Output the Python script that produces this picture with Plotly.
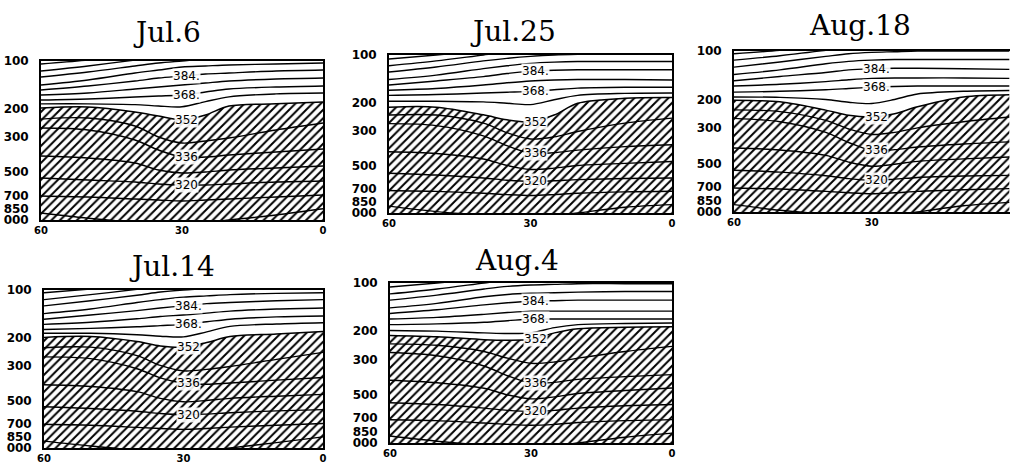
import plotly.graph_objects as go
import math

# ---------------- data ----------------
LATS = [60, 50, 40, 35, 30, 25, 20, 10, 0]
LEVELS = [416, 408, 400, 392, 384, 376, 368, 360, 352, 344, 336, 328, 320, 312, 304]
P_TICKS = [100, 200, 300, 500, 700, 850, 1000]
P_TICK_TEXT = ["100", "200", "300", "500", "700", "850", "000"]
LAT_TICKS = [60, 30, 0]
LABEL_LEVELS = [384, 368, 352, 336, 320]
LABEL_TEXT = ["384.", "368.", "352", "336", "320"]
SHADE_LEVEL = 352
TITLES = ["Jul.6", "Jul.25", "Aug.18", "Jul.14", "Aug.4"]

# pressure (hPa) of each isentrope (LEVELS order) at LATS
JUL6 = [
    [104.4, 98.6, 91.7, 88, 85, 83, 82, 80, 78],
    [115.6, 107.5, 98.6, 94.4, 91.7, 90.4, 89, 87.8, 86.5],
    [126, 117.3, 107.5, 103, 100, 97.1, 95.7, 94.4, 93],
    [141.6, 131.7, 119, 114, 109, 107.5, 106, 104.4, 103],
    [152.2, 143.6, 133.6, 128, 124.3, 120.7, 119, 115.6, 114],
    [163.6, 159, 150, 145.7, 141.6, 137.5, 133.6, 129.8, 128],
    [176, 173.4, 168.4, 166, 163.6, 156.7, 150, 145.7, 143.6],
    [186, 186, 188, 192, 194, 180, 168, 161, 159],
    [197.5, 194.7, 209.4, 222, 235, 218.6, 192, 186, 181],
    [232, 228.3, 256.4, 300.6, 328, 318.5, 305, 271.6, 245.5],
    [264, 271.6, 314, 363, 401.7, 401.7, 390.2, 373.6, 357.7],
    [395.9, 407.5, 438, 484.8, 506.4, 499, 484.8, 471, 457.6],
    [544.4, 560.5, 576.8, 593.8, 602.5, 602.5, 593.8, 576.8, 568.6],
    [706.6, 716.8, 737.9, 748.6, 759.5, 748.6, 737.9, 716.8, 696.3],
    [903.6, 975, 1030, 1045, 1060, 1040, 1000, 930, 850],
]
JUL25 = [
    [106, 100, 94, 91, 89, 87, 86, 85, 84],
    [117, 109, 100, 96, 93, 92, 91, 90, 89],
    [128, 119, 109, 105, 102, 100, 99, 98, 97],
    [143, 134, 122, 117, 113, 111, 110, 110, 110],
    [155, 146, 137, 131, 127, 125, 124, 124, 124],
    [167, 163, 155, 150, 146, 144, 143, 143, 144],
    [180, 178, 174, 172, 170, 166, 162, 160, 160],
    [196, 196, 198, 202, 206, 192, 180, 175, 174],
    [213.8, 213.8, 239, 257, 265, 240, 202, 188, 186],
    [240, 240, 270, 310, 340, 330, 305, 270, 251],
    [272, 280, 325, 375, 418, 415, 400, 380, 370],
    [410, 420, 455, 500, 530, 520, 500, 485, 472],
    [560, 575, 600, 620, 631, 625, 615, 605, 601],
    [720, 730, 750, 765, 775, 765, 750, 735, 729],
    [905, 980, 1030, 1050, 1060, 1040, 1000, 920, 885],
]
AUG18 = [
    [104, 99, 93, 90, 88, 87, 86, 85, 84],
    [114, 107, 99, 95, 93, 92, 91, 90, 90],
    [126, 117, 108, 104, 102, 101, 100, 100, 100],
    [140, 131, 120, 116, 114, 113, 113, 113, 113],
    [153, 144, 136, 131, 129, 128, 128, 129, 130],
    [165, 161, 155, 151, 148, 147, 147, 147, 148],
    [180, 178, 174, 171, 168, 166, 165, 165, 165],
    [193, 194, 200, 208, 212, 200, 185, 178, 176],
    [202, 207, 233, 251, 257, 245, 222, 193, 187],
    [232, 238, 270, 305, 330, 320, 300, 275, 257],
    [262, 275, 320, 370, 414, 410, 395, 378, 367],
    [400, 412, 445, 490, 520, 505, 485, 468, 455],
    [550, 565, 595, 620, 635, 625, 610, 598, 592],
    [710, 720, 745, 760, 770, 760, 745, 728, 716],
    [900, 975, 1030, 1050, 1060, 1040, 1000, 915, 871],
]
JUL14 = [
    [104, 98.6, 93, 90, 88, 86, 85, 84, 83],
    [115, 107, 99, 95, 92, 91, 90, 88, 87],
    [126, 117, 108, 103, 100, 98, 96, 95, 94],
    [141, 132, 120, 115, 111, 109, 107, 105, 104],
    [153, 144, 135, 130, 126, 122, 120, 117, 115],
    [165, 160, 152, 147, 144, 140, 136, 132, 130],
    [178, 175, 171, 168, 165, 159, 153, 148, 146],
    [188, 188, 192, 196, 198, 184, 170, 164, 161],
    [199.5, 197, 212, 226, 230, 215, 197, 190, 183],
    [232, 230, 260, 300, 325, 318, 305, 275, 248],
    [265, 272, 315, 360, 389, 395, 388, 372, 358],
    [398, 408, 440, 485, 510, 500, 485, 470, 458],
    [548, 562, 585, 605, 616, 610, 598, 582, 572],
    [708, 718, 740, 752, 762, 752, 738, 718, 700],
    [905, 972, 1030, 1045, 1060, 1040, 1000, 925, 850],
]
AUG4 = [
    [106, 100, 94, 91, 89, 88, 87, 86, 85],
    [117, 109, 100, 96, 94, 93, 92, 91, 91],
    [128, 119, 109, 105, 103, 102, 101, 101, 101],
    [143, 134, 122, 118, 116, 115, 114, 113, 113],
    [155, 147, 137, 133, 130, 129, 128, 128, 128],
    [168, 164, 157, 153, 150, 150, 150, 150, 150],
    [182, 180, 176, 172, 168, 168, 168, 168, 168],
    [198, 200, 205, 207, 205, 190, 182, 179, 178],
    [213, 217, 226, 228, 225, 205, 193, 189, 188],
    [240, 245, 268, 295, 318, 312, 295, 268, 249],
    [272, 285, 330, 380, 422, 418, 400, 385, 374],
    [405, 420, 455, 500, 530, 515, 490, 470, 453],
    [560, 575, 605, 625, 634, 625, 605, 585, 575],
    [715, 725, 750, 765, 775, 765, 745, 725, 714],
    [905, 975, 1030, 1050, 1060, 1040, 1000, 920, 867],
]
PANEL_DATA = [JUL6, JUL25, AUG18, JUL14, AUG4]

# ---------------- layout (pixels in the 1010x462 page) ----------------
W, H = 1010, 462
BOXES = [(41, 323, 61, 220), (389, 672, 55, 213), (734, 1010, 51, 212),
         (44, 323, 290, 448), (390, 672, 283, 443)]
X_RANGES = [[60, 0], [60, 0], [60, -0.15], [60, 0], [60, 0]]
X_TICKS = [LAT_TICKS, LAT_TICKS, LAT_TICKS[:2], LAT_TICKS, LAT_TICKS]
TITLE_POS = [(167, 33), (513, 31), (860, 25), (172, 266), (517, 260)]


def px(x):
    return x / W


def py(y):
    return 1 - y / H


fig = go.Figure()
annotations = []
ytick_font = dict(family="DejaVu Sans", size=12, color="black", weight="bold")
xtick_font = dict(family="DejaVu Sans", size=10, color="black", weight="bold")

for i, data in enumerate(PANEL_DATA):
    n = i + 1
    xa = "x" if n == 1 else f"x{n}"
    ya = "y" if n == 1 else f"y{n}"
    # baseline at bottom of the axis for hatched fill
    fig.add_trace(go.Scatter(x=[LATS[0], LATS[-1]], y=[P_TICKS[-1], P_TICKS[-1]],
                             mode="lines", line=dict(width=0, color="black"),
                             xaxis=xa, yaxis=ya, showlegend=False, hoverinfo="skip"))
    k = LEVELS.index(SHADE_LEVEL)
    fig.add_trace(go.Scatter(x=LATS, y=data[k], mode="lines",
                             line=dict(color="black", width=1.5, shape="spline", smoothing=0.9),
                             fill="tonexty", fillcolor="white",
                             fillpattern=dict(shape="/", size=6, solidity=0.33,
                                              fgcolor="black", bgcolor="white"),
                             xaxis=xa, yaxis=ya, showlegend=False, hoverinfo="skip"))
    for j, lev in enumerate(LEVELS):
        if lev == SHADE_LEVEL:
            continue
        fig.add_trace(go.Scatter(x=LATS, y=data[j], mode="lines",
                                 line=dict(color="black", width=1.4, shape="spline", smoothing=0.9),
                                 xaxis=xa, yaxis=ya, showlegend=False, hoverinfo="skip"))
    # contour labels
    for lev, txt in zip(LABEL_LEVELS, LABEL_TEXT):
        p = data[LEVELS.index(lev)][LATS.index(30)]
        annotations.append(dict(x=29, y=math.log10(p), xref=xa, yref=ya, text=txt,
                                showarrow=False, font=dict(family="DejaVu Sans", size=12, color="black"),
                                bgcolor="rgba(255,255,255,0.9)", borderpad=0))
    # title
    tx, ty = TITLE_POS[i]
    annotations.append(dict(x=px(tx), y=py(ty), xref="paper", yref="paper",
                            text=TITLES[i], showarrow=False, xanchor="center", yanchor="middle",
                            font=dict(family="DejaVu Serif", size=28, color="black")))
    x0, x1, y0, y1 = BOXES[i]
    axis_common = dict(showline=True, mirror=True, linecolor="black", linewidth=1.8,
                       showgrid=False, zeroline=False, ticks="", automargin=False)
    fig.layout[f"xaxis{'' if n == 1 else n}"] = dict(
        domain=[px(x0), min(1.0, px(x1))], range=X_RANGES[i], anchor=ya,
        tickvals=X_TICKS[i], ticktext=[str(v) for v in X_TICKS[i]],
        tickfont=xtick_font, ticklabelstandoff=0, **axis_common)
    fig.layout[f"yaxis{'' if n == 1 else n}"] = dict(
        domain=[py(y1), py(y0)], type="log", range=[3, 2], anchor=xa,
        tickvals=P_TICKS, ticktext=P_TICK_TEXT, tickfont=ytick_font,
        ticklabelstandoff=8, **axis_common)

fig.update_layout(template="none", width=W, height=H, margin=dict(l=0, r=0, t=0, b=0),
                  paper_bgcolor="white", plot_bgcolor="white",
                  annotations=annotations, showlegend=False)

# remove the browser's default page margin so the figure fills the window exactly
fig.write_html("out.html", config={"displayModeBar": False},
               post_script="document.body.style.margin='0';document.body.style.overflow='hidden';")
